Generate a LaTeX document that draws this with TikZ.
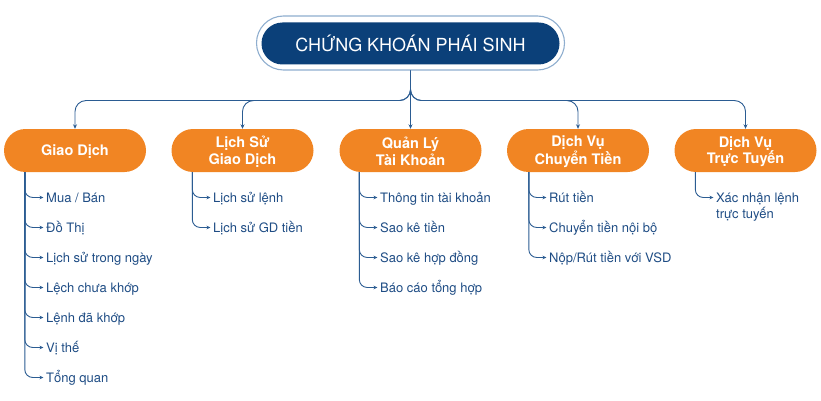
\documentclass[tikz,border=0pt]{standalone}
\usepackage{fontspec}
\setmainfont{TeX Gyre Heros}
\usetikzlibrary{arrows.meta}
\definecolor{navy}{HTML}{0B4079}
\definecolor{ringc}{HTML}{8FAECF}
\definecolor{orng}{HTML}{F18523}
\definecolor{conc}{HTML}{2B5C92}
\definecolor{itemc}{HTML}{1E4C84}
\begin{document}
\begin{tikzpicture}[x=1pt,y=-1pt,
  ringbox/.style={draw=ringc, line width=1.1pt, fill=white, rounded corners=27pt, minimum width=308pt, minimum height=54pt, inner sep=0pt},
  titlebox/.style={fill=navy, text=white, rounded corners=21pt, minimum width=298pt, minimum height=42pt, inner sep=0pt, font=\fontsize{18}{20}\selectfont},
  catbox/.style={fill=orng, text=white, rounded corners=21.5pt, minimum width=142pt, minimum height=43pt, inner sep=0pt, align=center, font=\fontsize{14.5}{16.5}\selectfont\bfseries},
  catlbl/.style={text=white, inner sep=0pt, align=center, font=\fontsize{14.5}{16.5}\selectfont\bfseries},
  item/.style={anchor=west, inner sep=0pt, text height=9.4pt, text depth=0pt, text=itemc, font=\fontsize{13}{15}\selectfont},
  conn/.style={draw=conc, line width=0.9pt, rounded corners=11pt, -{Stealth[length=4.5pt,width=4pt]}},
  sub/.style={draw=conc, line width=0.9pt, rounded corners=8pt, -{Stealth[length=4pt,width=3.5pt]}, shorten >=2.5pt}
]
\useasboundingbox (0,0) rectangle (821,401);
% title
\node[ringbox] (ring) at (410.5,43) {};
\node[titlebox] (title) at (410.5,43.5) {CHỨNG KHOÁN PHÁI SINH};
% categories
\node[catbox] (b1) at (75,150.5) {};
\node[catbox] (b2) at (242.5,150.5) {};
\node[catbox] (b3) at (410.5,150.5) {};
\node[catbox] (b4) at (578,150.5) {};
\node[catbox] (b5) at (745.5,150.5) {};
\node[catlbl] (t1) at (75,152) {Giao Dịch};
\node[catlbl] (t2) at (242.5,151.5) {Lịch Sử\\Giao Dịch};
\node[catlbl] (t3) at (410.5,151.5) {Quản Lý\\Tài Khoản};
\node[catlbl] (t4) at (578,151.5) {Dịch Vụ\\Chuyển Tiền};
\node[catlbl] (t5) at (745.5,151.5) {Dịch Vụ\\Trực Tuyến};
% top connectors
\draw[conn] (ring.south) -- ++(0,30) -| (b1.north);
\draw[conn] (ring.south) -- ++(0,30) -| (b2.north);
\draw[conn] (ring.south) -- (b3.north);
\draw[conn] (ring.south) -- ++(0,30) -| (b4.north);
\draw[conn] (ring.south) -- ++(0,30) -| (b5.north);
% items Giao Dich
\node[item] (a1) at (46,197.5) {Mua / Bán};
\node[item] (a2) at (46,227.5) {Đồ Thị};
\node[item] (a3) at (46,257.5) {Lịch sử trong ngày};
\node[item] (a4) at (46,287.5) {Lệch chưa khớp};
\node[item] (a5) at (46,317.5) {Lệnh đã khớp};
\node[item] (a6) at (46,347.5) {Vị thế};
\node[item] (a7) at (46,377.5) {Tổng quan};
\foreach \i in {1,...,7} \draw[sub] ([xshift=21pt]b1.south west) |- (a\i.west);
% items Lich Su
\node[item] (c1) at (213,197.5) {Lịch sử lệnh};
\node[item] (c2) at (213,227.5) {Lịch sử GD tiền};
\foreach \i in {1,2} \draw[sub] ([xshift=21pt]b2.south west) |- (c\i.west);
% items Quan Ly
\node[item] (d1) at (380,197.5) {Thông tin tài khoản};
\node[item] (d2) at (380,227.5) {Sao kê tiền};
\node[item] (d3) at (380,257.5) {Sao kê hợp đồng};
\node[item] (d4) at (380,287.5) {Báo cáo tổng hợp};
\foreach \i in {1,...,4} \draw[sub] ([xshift=20pt]b3.south west) |- (d\i.west);
% items Chuyen Tien
\node[item] (f1) at (549,197.5) {Rút tiền};
\node[item] (f2) at (549,227.5) {Chuyển tiền nội bộ};
\node[item] (f3) at (549,257.5) {Nộp/Rút tiền với VSD};
\foreach \i in {1,...,3} \draw[sub] ([xshift=22pt]b4.south west) |- (f\i.west);
% items Truc Tuyen
\node[item] (e1) at (716,197.5) {Xác nhận lệnh};
\node[item] (e2) at (716,213.5) {trực tuyến};
\draw[sub] ([xshift=21pt]b5.south west) |- (e1.west);
\end{tikzpicture}
\end{document}
